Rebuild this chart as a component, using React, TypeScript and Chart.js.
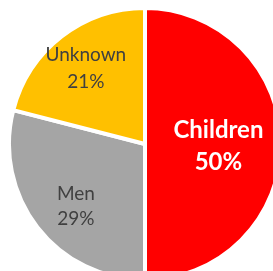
import React, { useEffect, useRef } from "react";
import { Chart, registerables } from "chart.js";

Chart.register(...registerables);

const categories = ["Children", "Men", "Unknown"];
const values = [50, 29, 21];
const percentLabels = ["50%", "29%", "21%"];
const colors = ["#FF0000", "#A5A5A5", "#FFC000"];

// label placement (fraction of radius + small nudge) and styles per slice
const labelRadiusFrac = [0.54, 0.68, 0.71];
const labelNudge = [
  [0, 1],
  [4, 5],
  [0, 0],
];
const labelColors = ["#FFFFFF", "#404040", "#404040"];
const labelFonts = [
  { size: 24, weight: "bold", lineHeight: 32 },
  { size: 19, weight: "normal", lineHeight: 25 },
  { size: 19, weight: "normal", lineHeight: 26.5 },
];

const labelPlugin = {
  id: "sliceLabels",
  afterDatasetsDraw(chart: any) {
    const ctx = chart.ctx;
    const meta = chart.getDatasetMeta(0);
    meta.data.forEach((arc: any, i: number) => {
      const p = arc.getProps(["x", "y", "startAngle", "endAngle", "outerRadius"], true);
      const mid = (p.startAngle + p.endAngle) / 2;
      const r = p.outerRadius * labelRadiusFrac[i];
      const cx = p.x + Math.cos(mid) * r + labelNudge[i][0];
      const cy = p.y + Math.sin(mid) * r + labelNudge[i][1];
      const f = labelFonts[i];
      const capH = f.size * 0.72;
      ctx.save();
      ctx.fillStyle = labelColors[i];
      ctx.font = `${f.weight} ${f.size}px Lato, "Liberation Sans", sans-serif`;
      ctx.textAlign = "center";
      ctx.textBaseline = "alphabetic";
      ctx.fillText(categories[i], cx, cy - f.lineHeight / 2 + capH / 2);
      ctx.fillText(percentLabels[i], cx, cy + f.lineHeight / 2 + capH / 2);
      ctx.restore();
    });
  },
};

export default function App() {
  const ref = useRef<HTMLCanvasElement | null>(null);
  useEffect(() => {
    if (!ref.current) return;
    const chart = new Chart(ref.current, {
      type: "pie",
      data: {
        labels: categories,
        datasets: [
          {
            data: values,
            backgroundColor: colors,
            borderColor: "#FFFFFF",
            borderWidth: 4,
          },
        ],
      },
      options: {
        responsive: false,
        animation: false,
        rotation: 0,
        layout: { padding: 0 },
        plugins: {
          legend: { display: false },
          tooltip: { enabled: false },
        },
      },
      plugins: [labelPlugin],
    });
    return () => chart.destroy();
  }, []);

  return (
    <div
      style={{
        position: "fixed",
        left: 0,
        top: 0,
        width: 273,
        height: 271,
        overflow: "hidden",
        background: "#FFFFFF",
      }}
    >
      <canvas
        ref={ref}
        width={276}
        height={276}
        style={{ position: "absolute", left: 6.5, top: 6, width: 276, height: 276 }}
      />
    </div>
  );
}
